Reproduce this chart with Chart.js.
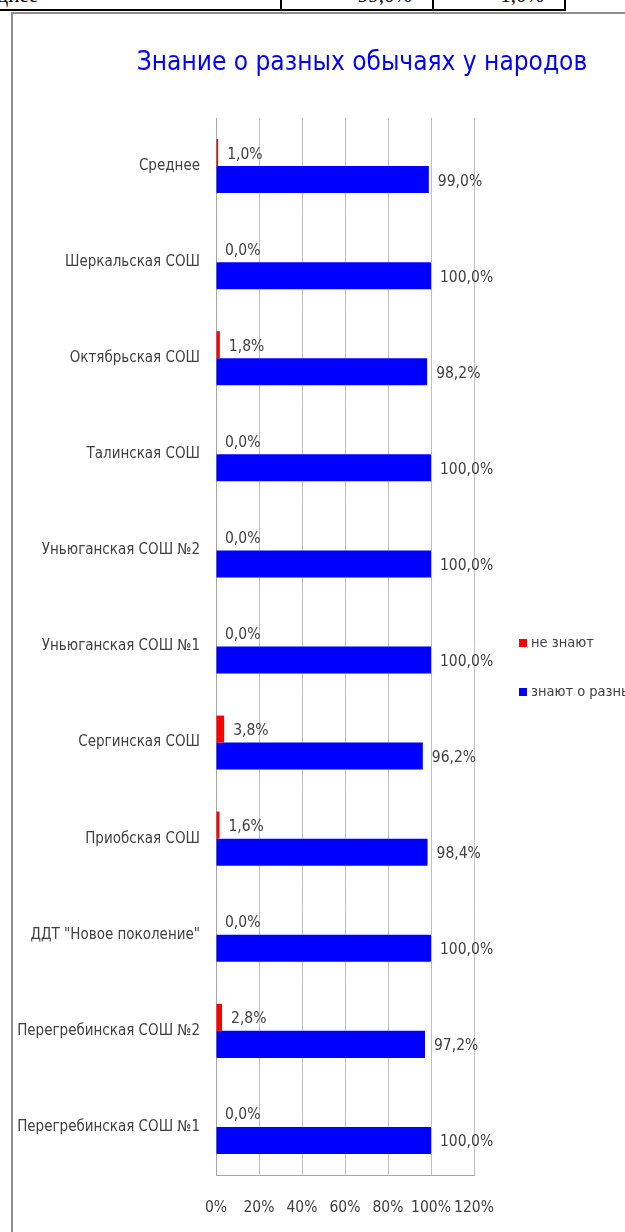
<!DOCTYPE html>
<html>
<head>
<meta charset="utf-8">
<script src="https://cdn.jsdelivr.net/npm/chart.js@4.4.1/dist/chart.umd.min.js"></script>
<style>
body{margin:0;background:#fff;width:625px;height:1232px;overflow:hidden;position:relative;font-family:"Liberation Serif",serif}
#tbl{position:absolute;left:0;top:0;width:566px;height:11px;overflow:hidden;border-bottom:2px solid #000;box-sizing:border-box}
#tbl div{position:absolute;top:-17px;height:30px;font-size:21px;line-height:24px;border-right:2px solid #000;box-sizing:border-box;white-space:nowrap}
#frame{position:absolute;left:11px;top:12px;width:700px;height:1300px;border-left:2px solid #8f8f8f;border-top:2px solid #8f8f8f;pointer-events:none}
#c{position:absolute;left:0;top:0}
</style>
</head>
<body>
<div id="tbl">
<div style="left:-36px;width:318px">Среднее</div>
<div style="left:280px;width:154px;text-align:right;padding-right:20px">99,0%</div>
<div style="left:432px;width:134px;text-align:right;padding-right:20px">1,0%</div>
</div>
<canvas id="c" width="625" height="1232"></canvas>
<div id="frame"></div>
<script>
const titleText="Знание о разных обычаях у народов";
const schools=["Среднее","Шеркальская СОШ","Октябрьская СОШ","Талинская СОШ","Уньюганская СОШ №2","Уньюганская СОШ №1","Сергинская СОШ","Приобская СОШ","ДДТ \"Новое поколение\"","Перегребинская СОШ №2","Перегребинская СОШ №1"];
const dontKnow=[1.0,0.0,1.8,0.0,0.0,0.0,3.8,1.6,0.0,2.8,0.0];
const know=[99.0,100.0,98.2,100.0,100.0,100.0,96.2,98.4,100.0,97.2,100.0];
const seriesNames=["не знают","знают о разных обычаях"];
const xTicks=[0,20,40,60,80,100,120];

const FONT="'DejaVu Sans Condensed','Liberation Sans Narrow',sans-serif";
const TXT="#404040";

const extras={
id:"extras",
afterDatasetsDraw(chart){
const ctx=chart.ctx;
ctx.save();
ctx.font="15.5px "+FONT;
ctx.fillStyle=TXT;
ctx.textAlign="left";
ctx.textBaseline="middle";
chart.data.datasets.forEach((ds,i)=>{
chart.getDatasetMeta(i).data.forEach((bar,j)=>{
const v=ds.data[j];
ctx.fillText(v.toFixed(1).replace(".",",")+"%",bar.x+9,bar.y+2);
});
});
// заголовок
ctx.font="26px "+FONT;
ctx.fillStyle="#0000ff";
ctx.textAlign="center";
ctx.fillText(titleText,362,63);
// легенда
ctx.font="14.5px "+FONT;
ctx.textAlign="left";
const cols=["#ff0000","#0000ff"];
const ys=[643,692];
seriesNames.forEach((n,i)=>{
ctx.fillStyle=cols[i];
ctx.fillRect(519,ys[i]-4,8,8);
ctx.fillStyle=TXT;
ctx.fillText(n,531,ys[i]);
});
ctx.restore();
}
};

new Chart(document.getElementById("c"),{
type:"bar",
data:{
labels:schools,
datasets:[
{label:seriesNames[0],data:dontKnow,backgroundColor:"#ff0000",borderWidth:0},
{label:seriesNames[1],data:know,backgroundColor:"#0000ff",borderWidth:0}
]
},
options:{
indexAxis:"y",
responsive:false,
animation:false,
devicePixelRatio:1,
categoryPercentage:0.5625,
barPercentage:1,
layout:{padding:{left:0,right:151,top:118,bottom:7}},
plugins:{legend:{display:false},title:{display:false},tooltip:{enabled:false}},
scales:{
x:{
min:0,max:120,
afterBuildTicks(s){s.ticks=xTicks.map(v=>({value:v}));},
afterFit(s){s.height=50;},
grid:{color:"#bfbfbf",drawTicks:false},
border:{color:"#a6a6a6"},
ticks:{padding:24,color:TXT,maxRotation:0,minRotation:0,autoSkip:false,font:{family:FONT,size:15.5},callback:v=>v+"%"}
},
y:{
afterFit(s){s.width=216;},
grid:{display:false,drawTicks:false},
border:{color:"#a6a6a6"},
ticks:{padding:16,color:TXT,font:{family:FONT,size:15}}
}
}
},
plugins:[extras]
});
</script>
</body>
</html>
